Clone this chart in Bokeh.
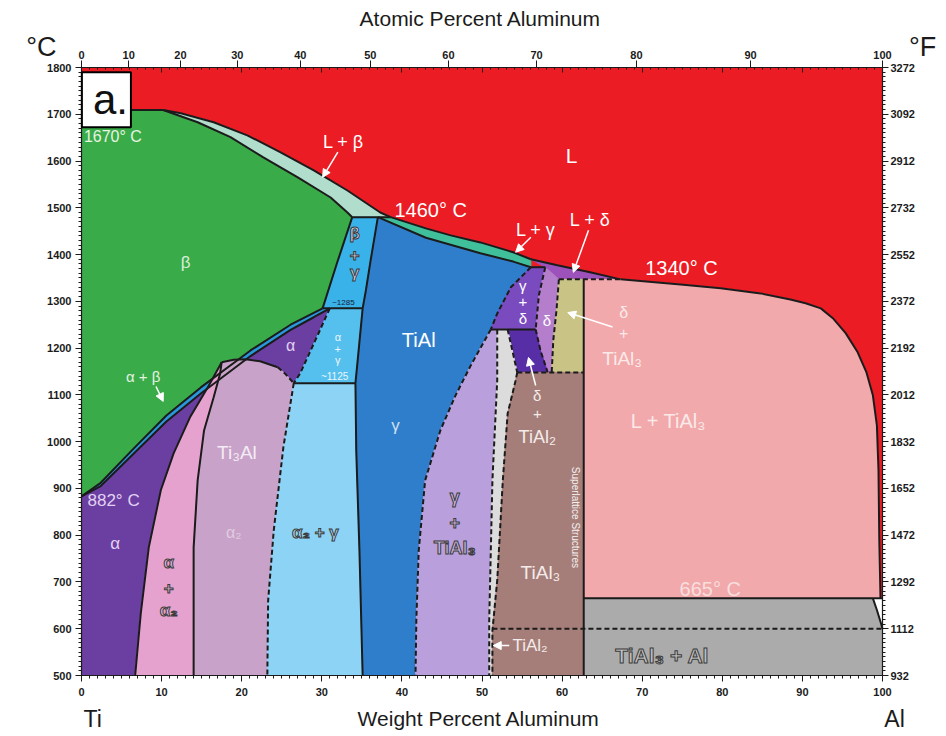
import math
from bokeh.plotting import figure
from bokeh.models import (LinearAxis, FixedTicker, Label, Arrow, NormalHead,
                          ColumnDataSource, Range1d)
from bokeh.embed import file_html
from bokeh.resources import INLINE

FONT = "Liberation Sans"
INK = "#1b1b1b"

# ---------------- axis ticks and labels ----------------
wt_ticks = list(range(0, 101, 10))
at_ticks = list(range(0, 101, 10))
celsius_ticks = list(range(500, 1801, 100))
fahrenheit_labels = ["932", "1112", "1292", "1472", "1652", "1832", "2012",
                     "2192", "2372", "2552", "2732", "2912", "3092", "3272"]

M_TI, M_AL = 47.867, 26.982


def at_to_wt(a):
    """Atomic percent Al -> weight percent Al."""
    return 100.0 * a * M_AL / (a * M_AL + (100.0 - a) * M_TI)


# ---------------- phase boundaries (wt% Al, deg C) ----------------
liq_beta = ([0.0, 1.5, 4.0, 6.1, 10.2], [1672, 1685, 1702, 1709, 1709])
liq_lb = ([10.2, 12.4, 16.5, 20.7, 24.8, 29.0, 33.2, 37.3, 38.6],
          [1709, 1702, 1683, 1655, 1619, 1580, 1537, 1490, 1480])
liq_lg = ([38.6, 43.0, 46.1, 49.8, 53.9, 56.1],
          [1480, 1456, 1441, 1426, 1405, 1390])
liq_ld = ([56.1, 57.9, 59.4, 63.5, 67.3], [1390, 1383, 1377, 1362, 1347])
liq_t3 = ([67.3, 74.8, 79.8, 84.8, 88.5, 90.4, 92.3, 93.8, 95.4, 96.9, 98.0,
           98.8, 99.3, 99.5, 99.6, 99.75],
          [1347, 1336, 1328, 1317, 1304, 1296, 1285, 1264, 1232, 1191, 1148,
           1099, 1035, 939, 789, 665])
sol_beta = ([10.2, 14.5, 18.6, 22.7, 27.0, 31.1, 33.2, 33.8],
            [1709, 1683, 1651, 1608, 1565, 1522, 1490, 1480])
sol_gamma = ([37.0, 43.0, 49.8, 53.9, 56.1], [1480, 1436, 1403, 1385, 1373])
beta_bg = ([33.8, 31.9, 30.1], [1480, 1382, 1285])
transus = ([0.0, 2.4, 6.5, 10.6, 14.9, 21.1, 26.1, 30.1],
           [883, 912, 985, 1056, 1116, 1195, 1250, 1285])
ab_alpha = ([0.0, 2.4, 6.5, 10.6, 14.9, 21.1, 26.1, 29.0, 31.0],
            [883, 905, 974, 1043, 1103, 1183, 1239, 1266, 1285])
a_ag = ([31.0, 29.2, 27.3, 26.5], [1285, 1217, 1146, 1125])
dome_solid = ([17.5, 19.0, 20.5, 22.3, 24.5], [1170, 1175, 1176, 1172, 1159])
dome_dash = ([24.5, 25.5, 26.5], [1159, 1144, 1125])
a_aa2 = ([17.5, 15.9, 13.6, 11.5, 9.9, 8.4, 7.4, 6.7],
         [1170, 1120, 1054, 975, 896, 774, 633, 500])
aa2_a2 = ([17.5, 17.3, 16.5, 15.3, 14.5, 14.0, 14.0, 14.0],
          [1170, 1145, 1095, 1024, 917, 774, 633, 500])
a2_a2g = ([26.5, 25.2, 24.0, 23.3, 23.2], [1125, 988, 810, 660, 500])
gl_top = ([37.0, 36.1, 35.5, 35.1], [1480, 1388, 1323, 1285])
gl_mid = ([35.1, 34.6, 34.2], [1285, 1195, 1125])
gl_low = ([34.2, 34.3, 34.7, 35.1], [1125, 981, 767, 500])
gam_delta = ([56.1, 53.6, 51.9, 51.1], [1373, 1330, 1274, 1240])
gam_t3 = ([51.1, 48.6, 46.7, 44.8, 42.9, 42.1, 41.8, 41.7],
          [1240, 1163, 1099, 1024, 917, 767, 618, 500])
d_left_a = ([57.9, 57.1, 56.7], [1373, 1313, 1240])
d_left_b = ([56.7, 57.3, 58.2], [1240, 1195, 1148])
d_right = ([59.6, 59.3, 58.9, 58.7], [1347, 1281, 1217, 1148])
t3_edge = ([51.9, 51.9, 51.6, 51.3, 51.1, 50.9, 50.9],
           [1240, 1131, 1024, 917, 767, 618, 500])
t2_top = ([53.2, 54.4], [1240, 1148])
t2_low = ([54.4, 54.2, 53.2, 52.6, 51.9, 51.3, 51.3],
          [1148, 1131, 1060, 917, 703, 596, 500])
al_solvus = ([98.8, 99.3, 99.75, 100.0], [665, 640, 615, 600])

# invariant temperatures and line compounds
T_PERI_B, T_EUT_HI, T_EUT_LO = 1480, 1285, 1125
T_GD, T_LD, T_GDB, T_T2 = 1373, 1347, 1240, 1148
T_AL_EUT, T_T2_LOW = 665, 600
TIAL3_WT = 62.7
T_MIN, T_MAX = 500, 1800
WT_MIN, WT_MAX = 0.0, 100.0

RED = "#ec1c24"
COL = {
    "beta": "#3aab49", "lb": "#b0ddcc", "ab": "#2a97dc", "alpha": "#6b3fa2",
    "aa2": "#e6a2cf", "a2": "#c8a2c9", "a2g": "#8dd3f5", "ag": "#55c0ee",
    "bg": "#38b2e8", "gamma": "#2f7ecb", "lg": "#3fbf9a", "ld": "#9c52ba",
    "gd": "#7a4bbf", "delta": "#b47ecd", "dt3": "#c9c485", "dt2": "#582ea6",
    "gt3": "#b9a0dc", "strip": "#dcdcdc", "t2": "#a67e79", "lt3": "#f2a9ab",
    "grey": "#ababab", "white": "#ffffff",
}


def R(seg):
    return (seg[0][::-1], seg[1][::-1])


def pt(x, y):
    return ([x], [y])


def join(*segs):
    xs, ys = [], []
    for sx, sy in segs:
        xs += list(sx)
        ys += list(sy)
    return xs, ys


regions = {
    "beta": join(liq_beta, sol_beta, beta_bg, R(transus)),
    "lb": join(liq_lb, R(sol_beta)),
    "ab": join(transus, R(ab_alpha)),
    "alpha": join(ab_alpha, a_ag, R(dome_dash), R(dome_solid), a_aa2, pt(0.0, T_MIN)),
    "aa2": join(a_aa2, R(aa2_a2)),
    "a2": join(aa2_a2, R(a2_a2g), R(dome_dash), R(dome_solid)),
    "a2g": join(a2_a2g, R(gl_low)),
    "ag": join(a_ag, R(gl_mid)),
    "bg": join(beta_bg, R(gl_top)),
    "gamma": join(gl_top, gl_mid, gl_low, R(gam_t3), R(gam_delta), R(sol_gamma)),
    "lg": join(liq_lg, R(sol_gamma)),
    "ld": join(liq_ld, pt(d_right[0][0], T_LD), pt(d_left_a[0][0], T_GD)),
    "gd": join(d_left_a, R(gam_delta)),
    "delta": join(d_left_a, d_left_b, R(d_right)),
    "dt3": join(d_right, pt(TIAL3_WT, T_T2), pt(TIAL3_WT, T_LD)),
    "dt2": join(d_left_b, R(t2_top)),
    "gt3": join(gam_t3, R(t3_edge)),
    "strip": join(t3_edge, R(t2_low), R(t2_top)),
    "t2": join(t2_low, pt(TIAL3_WT, T_MIN), pt(TIAL3_WT, T_T2)),
    "lt3": join(pt(TIAL3_WT, T_LD), liq_t3, pt(TIAL3_WT, T_AL_EUT)),
    "grey": join(pt(TIAL3_WT, T_AL_EUT), al_solvus, pt(100.0, T_MIN), pt(TIAL3_WT, T_MIN)),
    "white": join(al_solvus, pt(100.0, T_AL_EUT)),
}

# The plotting frame fills the whole page; the diagram box sits inside it with
# margins of 81/64 px (left/right) and 67/61 px (top/bottom) for the scales.
W, H = 946, 736
M_L, M_R, M_T, M_B = 81, 64, 67, 61
px_per_wt = (W - M_L - M_R) / (WT_MAX - WT_MIN)
px_per_deg = (H - M_T - M_B) / (T_MAX - T_MIN)
x_range = Range1d(WT_MIN - M_L / px_per_wt, WT_MAX + M_R / px_per_wt)
y_range = Range1d(T_MIN - M_B / px_per_deg, T_MAX + M_T / px_per_deg)

p = figure(width=W, height=H, x_range=x_range, y_range=y_range,
           x_axis_type=None, y_axis_type=None, toolbar_location=None,
           output_backend="svg", min_border=0,
           background_fill_color="white", border_fill_color="white",
           outline_line_color=None)

# liquid field: the whole diagram box, overdrawn by the solid-containing fields
p.quad(left=[WT_MIN], right=[WT_MAX], bottom=[T_MIN], top=[T_MAX],
       fill_color=RED, line_color=None)

names = list(regions)
p.patches(xs=[regions[n][0] for n in names], ys=[regions[n][1] for n in names],
          fill_color=[COL[n] for n in names], line_color=[COL[n] for n in names],
          line_width=1)

solid = [liq_beta, liq_lb, liq_lg, liq_ld, liq_t3, sol_beta, sol_gamma, beta_bg,
         transus, ab_alpha, a_aa2, aa2_a2, dome_solid, gl_top, gl_mid, gl_low, al_solvus,
         ([33.8, 38.6], [T_PERI_B, T_PERI_B]),
         ([30.1, 35.1], [T_EUT_HI, T_EUT_HI]),
         ([26.5, 34.2], [T_EUT_LO, T_EUT_LO]),
         ([56.1, 57.9], [T_GD, T_GD]),
         ([51.1, 56.7], [T_GDB, T_GDB]),
         ([TIAL3_WT, 100.0], [T_AL_EUT, T_AL_EUT]),
         ([TIAL3_WT, TIAL3_WT], [T_MIN, T_LD])]
dashed = [a_ag, a2_a2g, dome_dash, gam_delta, gam_t3, d_left_a, d_left_b, d_right,
          t3_edge, t2_top, t2_low,
          ([59.6, 67.3], [T_LD, T_LD]),
          ([54.4, TIAL3_WT], [T_T2, T_T2]),
          ([51.3, 100.0], [T_T2_LOW, T_T2_LOW])]

p.multi_line(xs=[s[0] for s in solid], ys=[s[1] for s in solid],
             line_color=INK, line_width=2)
p.multi_line(xs=[s[0] for s in dashed], ys=[s[1] for s in dashed],
             line_color=INK, line_width=2, line_dash="5 3")

# ---------------- axes, pinned to the edges of the diagram box ----------------


def style(ax):
    ax.axis_line_color = INK
    ax.axis_line_width = 1.2
    ax.major_tick_line_color = INK
    ax.minor_tick_line_color = INK
    ax.major_label_text_font = FONT
    ax.major_label_text_font_size = "11px"
    ax.major_label_text_font_style = "bold"
    ax.major_label_text_color = INK


bottom = LinearAxis(fixed_location=T_MIN, bounds=(WT_MIN, WT_MAX),
                    ticker=FixedTicker(ticks=wt_ticks, minor_ticks=list(range(0, 101))),
                    major_tick_out=6, major_tick_in=0, minor_tick_out=3, minor_tick_in=0,
                    major_label_standoff=6)
style(bottom)
p.add_layout(bottom, "below")

# weight-percent ticks repeated inward along the top edge (unlabelled)
top_wt = LinearAxis(fixed_location=T_MAX, bounds=(WT_MIN, WT_MAX),
                    ticker=FixedTicker(ticks=wt_ticks, minor_ticks=list(range(0, 101))),
                    major_label_overrides={t: "" for t in wt_ticks},
                    major_tick_out=0, major_tick_in=5, minor_tick_out=0, minor_tick_in=2)
style(top_wt)
p.add_layout(top_wt, "above")

# atomic-percent scale, outward along the top edge
top_pos = [round(at_to_wt(a), 4) for a in at_ticks]
top_at = LinearAxis(fixed_location=T_MAX, bounds=(WT_MIN, WT_MAX),
                    ticker=FixedTicker(ticks=top_pos, minor_ticks=[]),
                    major_label_overrides={pos: str(a) for pos, a in zip(top_pos, at_ticks)},
                    major_tick_out=7, major_tick_in=0, minor_tick_out=0, minor_tick_in=0,
                    major_label_standoff=2)
style(top_at)
p.add_layout(top_at, "above")

left = LinearAxis(fixed_location=WT_MIN, bounds=(T_MIN, T_MAX),
                  ticker=FixedTicker(ticks=celsius_ticks, minor_ticks=list(range(500, 1801, 10))),
                  major_tick_out=6, major_tick_in=0, minor_tick_out=3, minor_tick_in=0,
                  major_label_standoff=4)
style(left)
p.add_layout(left, "left")

right = LinearAxis(fixed_location=WT_MAX, bounds=(T_MIN, T_MAX),
                   ticker=FixedTicker(ticks=celsius_ticks, minor_ticks=list(range(500, 1801, 10))),
                   major_label_overrides=dict(zip(celsius_ticks, fahrenheit_labels)),
                   major_tick_out=6, major_tick_in=0, minor_tick_out=3, minor_tick_in=0,
                   major_label_standoff=2)
style(right)
p.add_layout(right, "right")

# ---------------- labels ----------------
captions = [
    # text, wt, T, size
    ("Atomic Percent Aluminum", 49.8, 1905, 21),
    ("Weight Percent Aluminum", 49.6, 408, 21),
    ("Ti", 1.4, 408, 23),
    ("Al", 101.5, 408, 23),
    ("\u00b0C", -5.0, 1843, 27),
    ("\u00b0F", 105.0, 1843, 27),
]
csrc = ColumnDataSource(dict(
    x=[c[1] for c in captions], y=[c[2] for c in captions], text=[c[0] for c in captions],
    size=[f"{c[3]}px" for c in captions]))
p.text(x="x", y="y", text="text", text_font_size="size", text_color=INK,
       text_align="center", text_baseline="middle", text_font={"value": FONT},
       source=csrc)

plain = [
    # text, wt, T, size, color, align, angle
    ("1670\u00b0 C", 0.3, 1653, 16, "#e6f4e0", "left", 0),
    ("L + \u03b2", 32.7, 1640, 18, "#ffffff", "center", 0),
    ("L", 61.2, 1612, 21, "#ffffff", "center", 0),
    ("1460\u00b0 C", 43.6, 1495, 20, "#ffffff", "center", 0),
    ("L + \u03b3", 56.7, 1452, 18, "#ffffff", "center", 0),
    ("L + \u03b4", 63.5, 1473, 18, "#ffffff", "center", 0),
    ("1340\u00b0 C", 74.9, 1371, 20, "#ffffff", "center", 0),
    ("\u03b2", 13.0, 1383, 17, "#d8eed8", "center", 0),
    ("\u03b1", 26.1, 1206, 16, "#e2d2f2", "center", 0),
    ("\u03b1 + \u03b2", 7.7, 1139, 15, "#e6f2e2", "center", 0),
    ("882\u00b0 C", 0.75, 874, 17, "#e2d2f2", "left", 0),
    ("\u03b1", 4.2, 782, 17, "#e2d2f2", "center", 0),
    ("Ti\u2083Al", 19.4, 977, 19, "#f4ecf4", "center", 0),
    ("\u03b1\u2082", 19.0, 806, 16, "#e0cce0", "center", 0),
    ("TiAl", 42.1, 1217, 20, "#ffffff", "center", 0),
    ("\u03b3", 39.2, 1035, 17, "#cfe0f2", "center", 0),
    ("\u03b3", 55.1, 1334, 15, "#ffffff", "center", 0),
    ("+", 55.1, 1298, 15, "#ffffff", "center", 0),
    ("\u03b4", 55.1, 1264, 15, "#ffffff", "center", 0),
    ("\u03b4", 58.1, 1259, 15, "#ffffff", "center", 0),
    ("\u03b4", 56.9, 1099, 15, "#f4ecea", "center", 0),
    ("+", 56.9, 1060, 15, "#f4ecea", "center", 0),
    ("TiAl\u2082", 56.9, 1009, 18, "#f4ecea", "center", 0),
    ("\u03b4", 67.7, 1276, 16, "#fbe9e9", "center", 0),
    ("+", 67.7, 1232, 16, "#fbe9e9", "center", 0),
    ("TiAl\u2083", 67.5, 1178, 19, "#fbe9e9", "center", 0),
    ("L + TiAl\u2083", 73.3, 1045, 20, "#fbe9e9", "center", 0),
    ("TiAl\u2083", 57.3, 720, 19, "#f4ecea", "center", 0),
    ("TiAl\u2082", 53.8, 564, 17, "#f4ecea", "left", 0),
    ("665\u00b0 C", 78.5, 686, 20, "#f9dede", "center", 0),
    ("Superlattice Structures", 61.7, 838, 10, "#f6f0f0", "center", -math.pi / 2),
    ("\u03b1", 32.0, 1223, 11, "#eaf5fc", "center", 0),
    ("+", 32.0, 1199, 11, "#eaf5fc", "center", 0),
    ("\u03b3", 32.0, 1174, 11, "#eaf5fc", "center", 0),
    ("~1125", 31.6, 1139, 10, "#eaf5fc", "center", 0),
    ("~1285", 32.7, 1297, 8, "#1a1a3a", "center", 0),
]
src = ColumnDataSource(dict(
    x=[r[1] for r in plain], y=[r[2] for r in plain], text=[r[0] for r in plain],
    size=[f"{r[3]}px" for r in plain], color=[r[4] for r in plain],
    align=[r[5] for r in plain], angle=[r[6] for r in plain]))
p.text(x="x", y="y", text="text", text_font_size="size", text_color="color",
       text_align="align", angle="angle", text_baseline="middle",
       text_font={"value": FONT}, source=src)

outlined = [
    # text, wt, T, size, fill
    ("\u03b2", 34.1, 1445, 17, "#d6d2ee"),
    ("+", 34.1, 1400, 17, "#d6d2ee"),
    ("\u03b3", 34.1, 1362, 17, "#d6d2ee"),
    ("\u03b1", 10.9, 742, 17, "#eab8da"),
    ("+", 10.9, 688, 17, "#eab8da"),
    ("\u03b1\u2082", 10.9, 639, 17, "#eab8da"),
    ("\u03b1\u2082 + \u03b3", 29.2, 806, 17, "#acdaf2"),
    ("\u03b3", 46.6, 881, 18, "#cab6e2"),
    ("+", 46.6, 827, 18, "#cab6e2"),
    ("TiAl\u2083", 46.6, 772, 18, "#cab6e2"),
    ("TiAl\u2083 + Al", 72.5, 543, 21, "#c2c2c2"),
]
osrc = ColumnDataSource(dict(
    x=[r[1] for r in outlined], y=[r[2] for r in outlined], text=[r[0] for r in outlined],
    size=[f"{r[3]}px" for r in outlined], color=[r[4] for r in outlined]))
p.text(x="x", y="y", text="text", text_font_size="size", text_color="color",
       text_outline_color="#3a3a3a", text_align="center", text_baseline="middle",
       text_font={"value": FONT}, text_font_style="bold", source=osrc)

# pointer arrows (start wt, start T, end wt, end T)
pointers = [
    (32.0, 1619, 30.1, 1565),
    (56.1, 1437, 54.2, 1405),
    (63.3, 1452, 61.4, 1362),
    (9.3, 1118, 10.2, 1086),
    (56.7, 1120, 55.8, 1180),
    (66.3, 1245, 60.7, 1276),
    (53.4, 564, 51.4, 564),
]
for x0, y0, x1, y1 in pointers:
    p.add_layout(Arrow(x_start=x0, y_start=y0, x_end=x1, y_end=y1,
                       line_color="white", line_width=1.5,
                       end=NormalHead(size=8, fill_color="white", line_color="white")))

# panel tag
p.add_layout(Label(x=0.05, y=1790, text="a.", text_font=FONT, text_font_size="42px",
                   text_color="#111111", text_baseline="top", text_align="left",
                   background_fill_color="white", border_line_color="black",
                   border_line_width=2,
                   padding=dict(left=11, right=3, top=4, bottom=4)))

open("out.html", "w").write(file_html(p, INLINE))
